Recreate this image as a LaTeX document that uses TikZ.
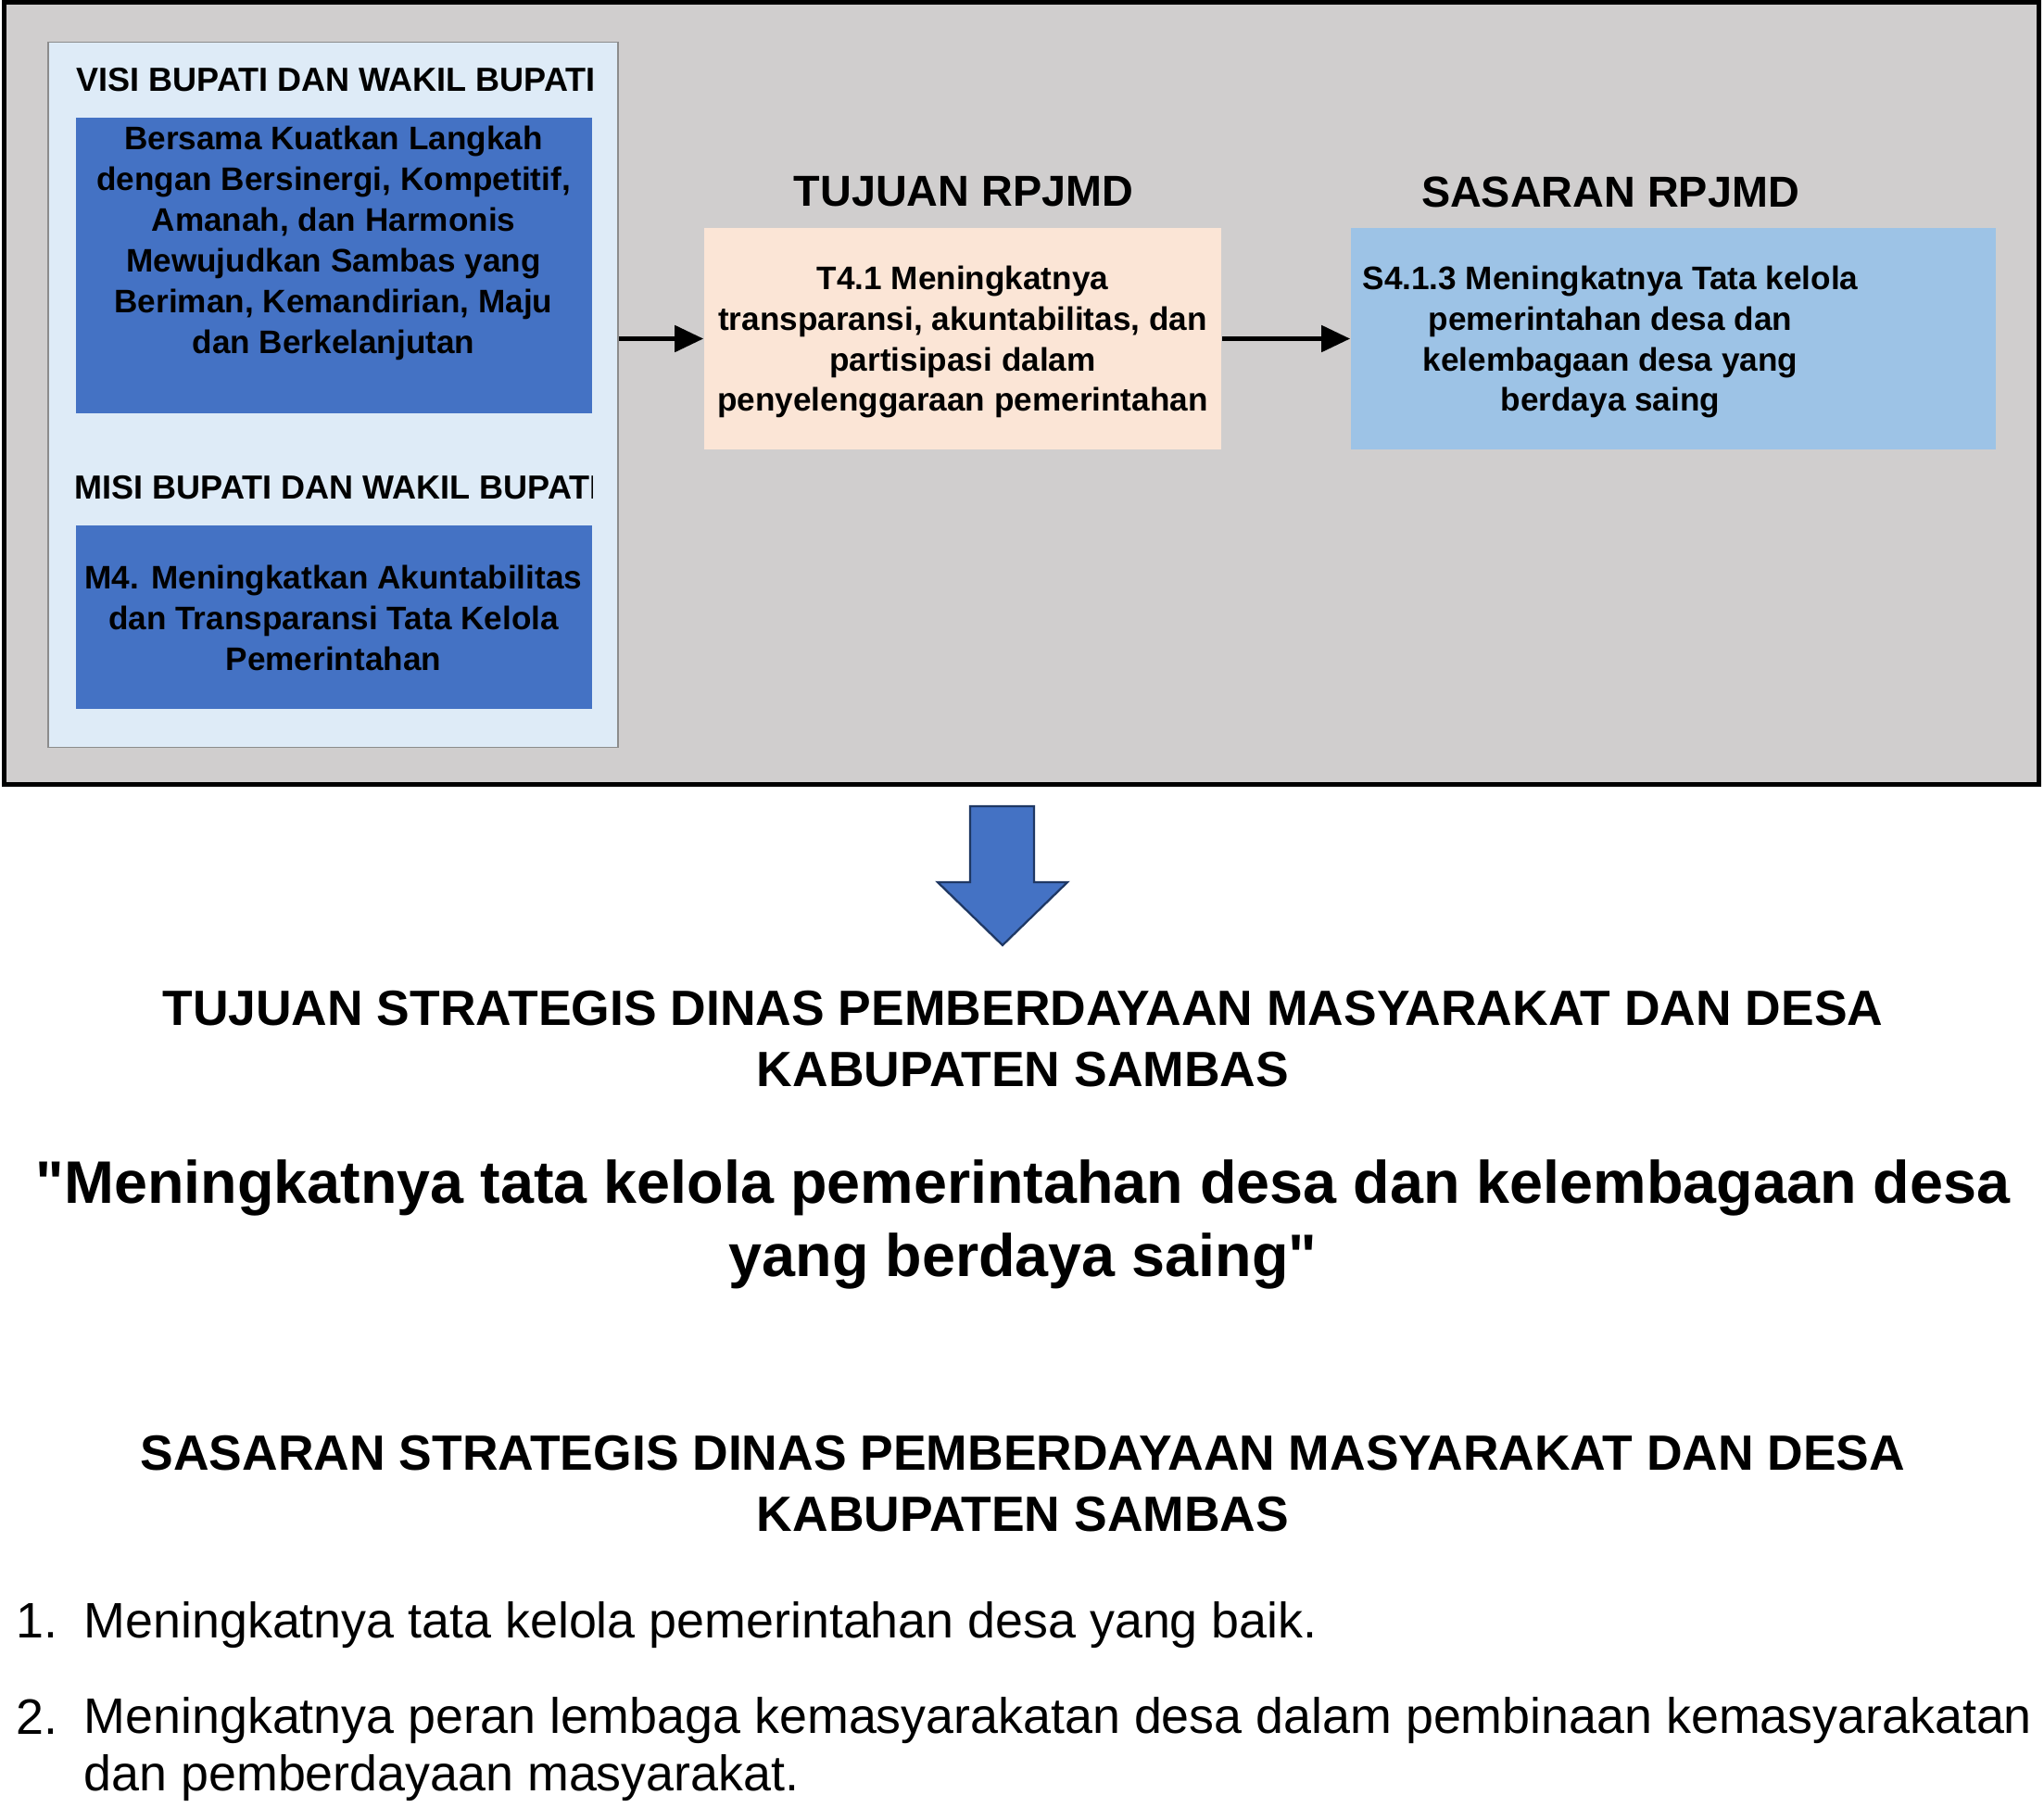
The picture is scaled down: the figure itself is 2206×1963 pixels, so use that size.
\documentclass[tikz,border=0pt]{standalone}
\usepackage{fontspec}
\setmainfont{Liberation Sans}
\usetikzlibrary{arrows.meta}
\definecolor{outergray}{HTML}{D0CECE}
\definecolor{panelblue}{HTML}{DEEBF7}
\definecolor{panelgray}{HTML}{8C8C8C}
\definecolor{accentblue}{HTML}{4472C4}
\definecolor{peach}{HTML}{FBE5D6}
\definecolor{skyblue}{HTML}{9DC3E6}
\definecolor{arrownavy}{HTML}{1F3864}
\tikzset{
  panelbox/.style={rectangle,inner sep=0pt,draw=none},
  boxtext/.style={inner sep=0pt,align=center,font=\fontsize{10}{12.5}\selectfont\bfseries},
  panelhead/.style={inner sep=0pt,anchor=west,font=\fontsize{10.25}{12}\selectfont\bfseries},
  rpjmdhead/.style={inner sep=0pt,font=\fontsize{13.3}{16}\selectfont\bfseries},
  bighead/.style={inner sep=0pt,align=center,font=\fontsize{15.2}{18.8}\selectfont\bfseries},
  quotetext/.style={inner sep=0pt,align=center,font=\fontsize{18.4}{22.5}\selectfont\bfseries},
  listtext/.style={inner sep=0pt,align=left,font=\fontsize{15.3}{17.6}\selectfont},
  link/.style={->,line width=1.34pt}
}
\begin{document}
\begin{tikzpicture}[x=0.01cm,y=-0.01cm,>={Triangle[length=8.8pt,width=8pt]}]
  \useasboundingbox (0,0) rectangle (2206,1963);
  % upper frame
  \node[panelbox,draw=black,line width=1.3pt,fill=outergray,minimum width=21.95cm,minimum height=8.43cm] (frame) at (1102.5,424.5) {};
  \node[panelbox,draw=panelgray,line width=0.4pt,fill=panelblue,minimum width=6.15cm,minimum height=7.6cm] (panel) at (359.5,426) {};
  \node[panelbox,fill=accentblue,minimum width=5.57cm,minimum height=3.19cm] (visi) at (360.5,286.5) {};
  \node[panelbox,fill=accentblue,minimum width=5.57cm,minimum height=1.98cm] (misi) at (360.5,666) {};
  \node[panelbox,fill=peach,minimum width=5.58cm,minimum height=2.39cm] (tujuan) at (1039,365.5) {};
  \node[panelbox,fill=skyblue,minimum width=6.96cm,minimum height=2.39cm] (sasaran) at (1806,365.5) {};
  % headings and texts
  \node[panelhead] (visihead) at (82,86) {VISI BUPATI DAN WAKIL BUPATI};
  \begin{scope}
    \clip (70,490) rectangle (639,560);
    \node[panelhead] (misihead) at (80,526) {MISI BUPATI DAN WAKIL BUPATI};
  \end{scope}
  \node[boxtext] (visitext) at (360,262.5) {Bersama Kuatkan Langkah\\dengan Bersinergi, Kompetitif,\\Amanah, dan Harmonis\\Mewujudkan Sambas yang\\Beriman, Kemandirian, Maju\\dan Berkelanjutan};
  \node[boxtext] (misitext) at (360,667) {M4. Meningkatkan Akuntabilitas\\dan Transparansi Tata Kelola\\Pemerintahan};
  \node[rpjmdhead] (tujuanhead) at (1040,207) {TUJUAN RPJMD};
  \node[rpjmdhead] (sasaranhead) at (1738,207) {SASARAN RPJMD};
  \node[boxtext] (tujuantext) at (1039,369) {T4.1 Meningkatnya\\transparansi, akuntabilitas, dan\\partisipasi dalam\\penyelenggaraan pemerintahan};
  \node[boxtext] (sasarantext) at (1738,369) {S4.1.3 Meningkatnya Tata kelola\\pemerintahan desa dan\\kelembagaan desa yang\\berdaya saing};
  \draw[link] (panel.east |- tujuan.west) -- (tujuan.west);
  \draw[link] (tujuan.east) -- (sasaran.west);
  % big arrow down
  \draw[fill=accentblue,draw=arrownavy,line width=0.65pt,line join=miter] (1047,870) -- (1116,870) -- (1116,952) -- (1152,952) -- (1082,1020) -- (1012,952) -- (1047,952) -- cycle;
  % lower part
  \node[bighead] (tujuanstrat) at (1104,1121) {TUJUAN STRATEGIS DINAS PEMBERDAYAAN MASYARAKAT DAN DESA\\KABUPATEN SAMBAS};
  \node[quotetext] (quote) at (1104,1321) {\textquotedbl Meningkatnya tata kelola pemerintahan desa dan kelembagaan desa\\yang berdaya saing\textquotedbl};
  \node[bighead] (sasaranstrat) at (1104,1601) {SASARAN STRATEGIS DINAS PEMBERDAYAAN MASYARAKAT DAN DESA\\KABUPATEN SAMBAS};
  \node[listtext,anchor=base west] (num1) at (17,1767) {1.};
  \node[listtext,anchor=base west] (item1) at (90,1767) {Meningkatnya tata kelola pemerintahan desa yang baik.};
  \node[listtext,anchor=base west] (num2) at (17,1871) {2.};
  \node[listtext,anchor=west] (item2) at (90,1888) {Meningkatnya peran lembaga kemasyarakatan desa dalam pembinaan kemasyarakatan\\dan pemberdayaan masyarakat.};
\end{tikzpicture}
\end{document}
